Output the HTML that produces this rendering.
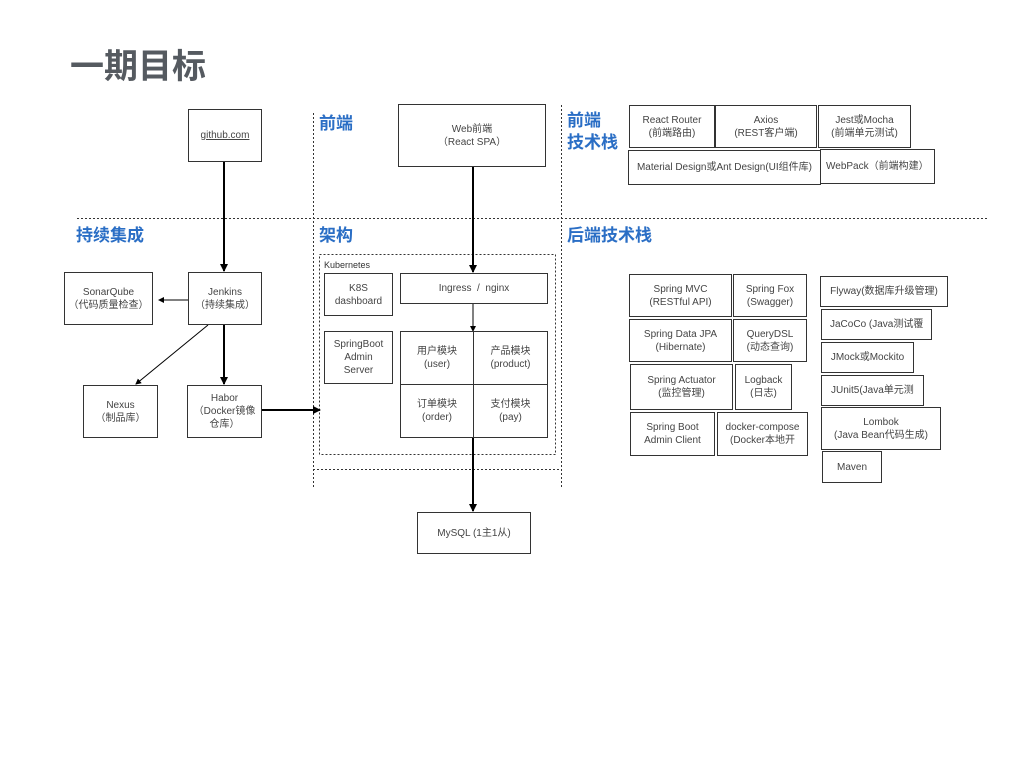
<!DOCTYPE html>
<html><head><meta charset="utf-8"><style>
body{margin:0;width:1024px;height:768px;background:#fff;position:relative;overflow:hidden;font-family:"Liberation Sans","Noto Sans CJK SC",sans-serif;color:#333}
.b{position:absolute;box-sizing:border-box;border:1px solid #333;background:#fff;display:flex;align-items:center;justify-content:center;text-align:center;font-size:10px;line-height:13px;overflow:hidden;white-space:nowrap;color:#444}
.h{position:absolute;color:#2a6ec5;font-weight:bold;font-size:17px;line-height:22px;font-family:"Liberation Sans","Noto Sans CJK SC",sans-serif}
svg{position:absolute;left:0;top:0}
</style></head><body>
<div style="position:absolute;left:70px;top:47px;font-size:34px;font-weight:bold;color:#555a60;line-height:40px">一期目标</div>

<svg width="1024" height="768">
<defs>
<marker id="a" markerWidth="8" markerHeight="8" refX="7" refY="4" orient="auto" markerUnits="userSpaceOnUse"><path d="M0,0 L8,4 L0,8z" fill="#000"/></marker>
<marker id="s" markerWidth="6" markerHeight="6" refX="5" refY="3" orient="auto" markerUnits="userSpaceOnUse"><path d="M0,0 L6,3 L0,6z" fill="#000"/></marker>
</defs>
<g stroke="#333" stroke-width="1" stroke-dasharray="2,2" fill="none">
<line x1="313.5" y1="113" x2="313.5" y2="487"/>
<line x1="561.5" y1="105" x2="561.5" y2="487"/>
<line x1="77" y1="218.5" x2="987" y2="218.5"/>
<line x1="313" y1="469.5" x2="561" y2="469.5"/>
<rect x="319.5" y="254.5" width="236" height="200"/>
</g>
<g stroke="#000" fill="none">
<line x1="224" y1="161" x2="224" y2="271" stroke-width="2" marker-end="url(#a)"/>
<line x1="224" y1="324" x2="224" y2="384" stroke-width="2" marker-end="url(#a)"/>
<line x1="188" y1="300" x2="159" y2="300" stroke-width="1" marker-end="url(#s)"/>
<line x1="208" y1="325" x2="136" y2="384" stroke-width="1" marker-end="url(#s)"/>
<line x1="261" y1="410" x2="320" y2="410" stroke-width="2" marker-end="url(#a)"/>
<line x1="473" y1="166" x2="473" y2="272" stroke-width="2" marker-end="url(#a)"/>
<line x1="473" y1="303" x2="473" y2="331" stroke-width="1" marker-end="url(#s)"/>
<line x1="473" y1="437" x2="473" y2="511" stroke-width="2" marker-end="url(#a)"/>
</g>
</svg>

<div class="h" style="left:319px;top:113px">前端</div>
<div class="h" style="left:76px;top:225px">持续集成</div>
<div class="h" style="left:319px;top:225px">架构</div>
<div class="h" style="left:567px;top:225px">后端技术栈</div>
<div class="h" style="left:567px;top:110px">前端<br>技术栈</div>

<div class="b" style="left:188px;top:109px;width:74px;height:53px;text-decoration:underline">github.com</div>
<div class="b" style="left:398px;top:104px;width:148px;height:63px">Web前端<br>（React SPA）</div>
<div class="b" style="left:188px;top:272px;width:74px;height:53px">Jenkins<br>（持续集成）</div>
<div class="b" style="left:64px;top:272px;width:89px;height:53px">SonarQube<br>（代码质量检查）</div>
<div class="b" style="left:83px;top:385px;width:75px;height:53px">Nexus<br>（制品库）</div>
<div class="b" style="left:187px;top:385px;width:75px;height:53px">Habor<br>（Docker镜像<br>仓库）</div>

<div style="position:absolute;left:324px;top:260px;font-size:9px;color:#333">Kubernetes</div>
<div class="b" style="left:324px;top:273px;width:69px;height:43px">K8S<br>dashboard</div>
<div class="b" style="left:324px;top:331px;width:69px;height:53px">SpringBoot<br>Admin<br>Server</div>
<div class="b" style="left:400px;top:273px;width:148px;height:31px">Ingress &nbsp;/ &nbsp;nginx</div>
<div class="b" style="left:400px;top:331px;width:74px;height:54px">用户模块<br>(user)</div>
<div class="b" style="left:473px;top:331px;width:75px;height:54px">产品模块<br>(product)</div>
<div class="b" style="left:400px;top:384px;width:74px;height:54px">订单模块<br>(order)</div>
<div class="b" style="left:473px;top:384px;width:75px;height:54px">支付模块<br>(pay)</div>
<div class="b" style="left:417px;top:512px;width:114px;height:42px">MySQL (1主1从)</div>

<div class="b" style="left:629px;top:105px;width:86px;height:43px">React Router<br>(前端路由)</div>
<div class="b" style="left:715px;top:105px;width:102px;height:43px">Axios<br>(REST客户端)</div>
<div class="b" style="left:818px;top:105px;width:93px;height:43px">Jest或Mocha<br>(前端单元测试)</div>
<div class="b" style="left:628px;top:150px;width:193px;height:35px">Material Design或Ant Design(UI组件库)</div>
<div class="b" style="left:820px;top:149px;width:115px;height:35px;justify-content:flex-start;padding-left:5px">WebPack（前端构建）</div>

<div class="b" style="left:629px;top:274px;width:103px;height:43px">Spring MVC<br>(RESTful API)</div>
<div class="b" style="left:733px;top:274px;width:74px;height:43px">Spring Fox<br>(Swagger)</div>
<div class="b" style="left:629px;top:319px;width:103px;height:43px">Spring Data JPA<br>(Hibernate)</div>
<div class="b" style="left:733px;top:319px;width:74px;height:43px">QueryDSL<br>(动态查询)</div>
<div class="b" style="left:630px;top:364px;width:103px;height:46px">Spring Actuator<br>(监控管理)</div>
<div class="b" style="left:735px;top:364px;width:57px;height:46px">Logback<br>(日志)</div>
<div class="b" style="left:630px;top:412px;width:85px;height:44px">Spring Boot<br>Admin Client</div>
<div class="b" style="left:717px;top:412px;width:91px;height:44px">docker-compose<br>(Docker本地开</div>

<div class="b" style="left:820px;top:276px;width:128px;height:31px">Flyway(数据库升级管理)</div>
<div class="b" style="left:821px;top:309px;width:111px;height:31px;justify-content:flex-start;padding-left:8px">JaCoCo (Java测试覆</div>
<div class="b" style="left:821px;top:342px;width:93px;height:31px">JMock或Mockito</div>
<div class="b" style="left:821px;top:375px;width:103px;height:31px;justify-content:flex-start;padding-left:9px">JUnit5(Java单元测</div>
<div class="b" style="left:821px;top:407px;width:120px;height:43px">Lombok<br>(Java Bean代码生成)</div>
<div class="b" style="left:822px;top:451px;width:60px;height:32px">Maven</div>
</body></html>
